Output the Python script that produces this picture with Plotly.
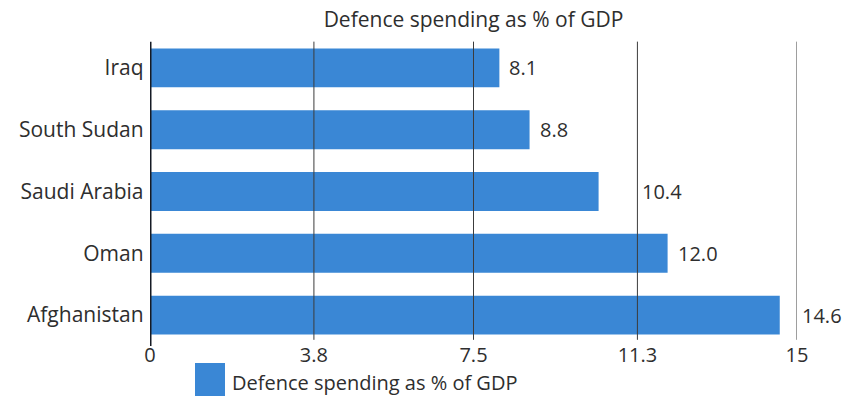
import plotly.graph_objects as go

# Defence spending as a share of GDP, by country
countries = ["Iraq", "South Sudan", "Saudi Arabia", "Oman", "Afghanistan"]
spending = [8.1, 8.8, 10.4, 12.0, 14.6]
tick_values = [0, 3.8, 7.5, 11.3, 15]
tick_labels = ["0", "3.8", "7.5", "11.3", "15"]
series_name = "Defence spending as % of GDP"

BAR_COLOR = "#3a87d5"
TEXT_COLOR = "#2e2e2e"
GRID_COLOR = "#3c3c3c"
FONT = "Open Sans, Noto Sans, sans-serif"
FS = 21

fig = go.Figure(
    go.Bar(
        x=spending,
        y=countries,
        orientation="h",
        marker=dict(color=BAR_COLOR, line=dict(width=0)),
        width=0.63,
        name=series_name,
        showlegend=False,
        hoverinfo="x+y",
    )
)

# Vertical grid lines drawn on top of the bars
shapes = []
for tv in tick_values[1:]:
    shapes.append(dict(type="line", xref="x", yref="paper", x0=tv, x1=tv,
                       y0=0.02, y1=0.985, layer="above",
                       line=dict(color=GRID_COLOR, width=1)))
# Heavy baseline at zero
shapes.append(dict(type="line", xref="x", yref="paper", x0=0, x1=0,
                   y0=0.0, y1=0.985, layer="above",
                   line=dict(color="#151a24", width=3)))

# Legend swatch and label below the axis (plot area spans y 37..346 px)
def py(px):
    return (346 - px) / 309

shapes.append(dict(type="rect", xref="paper", yref="paper",
                   x0=(195 - 150) / 647, x1=(225 - 150) / 647,
                   y0=py(396), y1=py(363),
                   fillcolor=BAR_COLOR, line=dict(width=0), layer="above"))

annotations = [dict(xref="paper", yref="paper", x=(230 - 150) / 647, y=py(382),
                    xanchor="left", yanchor="middle", showarrow=False,
                    text=series_name,
                    font=dict(family=FONT, size=FS - 1, color=TEXT_COLOR))]

# Value labels: placed just past the bar, or past a grid line that sits right at the bar end
for country, v in zip(countries, spending):
    nearby = [t for t in tick_values if v < t <= v + 1.0]
    anchor_x = nearby[0] if nearby else v
    annotations.append(dict(x=anchor_x, y=country, xref="x", yref="y",
                            text=f"{v:.1f}", showarrow=False,
                            xanchor="left", yanchor="middle",
                            xshift=3 if nearby else 8,
                            font=dict(family=FONT, size=FS - 1, color=TEXT_COLOR)))

fig.update_layout(
    width=849,
    height=396,
    margin=dict(l=150, r=52, t=37, b=50),
    paper_bgcolor="white",
    plot_bgcolor="white",
    font=dict(family=FONT, size=FS, color=TEXT_COLOR),
    title=dict(text=series_name, x=473.5 / 849, xanchor="center",
               y=1 - 20 / 396, yanchor="middle",
               font=dict(family=FONT, size=FS, color=TEXT_COLOR)),
    xaxis=dict(range=[0, 15], tickvals=tick_values, ticktext=tick_labels,
               showgrid=False, zeroline=False, showline=False,
               ticks="", tickfont=dict(size=FS - 1), ticklabelstandoff=-5),
    yaxis=dict(categoryorder="array", categoryarray=countries[::-1],
               showgrid=False, zeroline=False, showline=False,
               ticks="", ticksuffix=" ", tickfont=dict(size=FS)),
    shapes=shapes,
    annotations=annotations,
    showlegend=False,
)

fig.write_html("out.html")
